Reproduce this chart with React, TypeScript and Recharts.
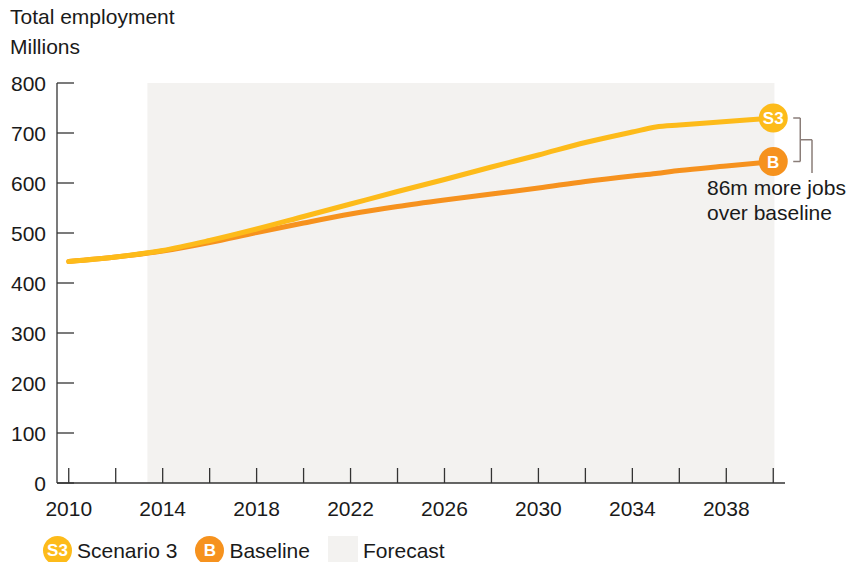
import React from "react"
import { LineChart, Line, XAxis, YAxis, ReferenceArea, ReferenceLine } from "recharts"

const years = [2010, 2012, 2014, 2016, 2018, 2020, 2022, 2024, 2026, 2028, 2030, 2032, 2034, 2035, 2036, 2038, 2040]
const scenario3 = [443, 452, 465, 485, 508, 533, 558, 583, 607, 632, 656, 681, 702, 712, 716, 723, 730]
const baseline = [443, 452, 464, 481, 501, 520, 538, 553, 566, 578, 590, 603, 614, 619, 625, 634, 643]
const xTicks = [2010, 2012, 2014, 2016, 2018, 2020, 2022, 2024, 2026, 2028, 2030, 2032, 2034, 2036, 2038, 2040]
const yTicks = [0, 100, 200, 300, 400, 500, 600, 700, 800]
const forecastStart = 2013.35
const forecastEnd = 2040.05

const data = years.map((year, i) => ({ year, s3: scenario3[i], base: baseline[i] }))

const FONT = "'Liberation Sans', Arial, Helvetica, sans-serif"
const S3_COLOR = "#FDBB1A"
const B_COLOR = "#F6921E"
const AXIS = "#333333"
const BRACKET = "#8a7d78"

const XTick = ({ x, y, payload }: any) => {
  const v = payload.value
  const showLabel = v < 2040 && (v - 2010) % 4 === 0
  return (
    <g>
      <line x1={x} x2={x} y1={y - 15} y2={y} stroke={AXIS} strokeWidth={1.3} />
      {showLabel && (
        <text x={x} y={y + 33} textAnchor="middle" fontSize={21} fill="#1a1a1a" fontFamily={FONT}>
          {v}
        </text>
      )}
    </g>
  )
}

const YTick = ({ x, y, payload }: any) => (
  <g>
    <line x1={x} x2={x + 17} y1={y} y2={y} stroke={AXIS} strokeWidth={1.3} />
    <text x={x - 11} y={y + 7.5} textAnchor="end" fontSize={21} fill="#1a1a1a" fontFamily={FONT}>
      {payload.value}
    </text>
  </g>
)

const endMarker = (label: string, color: string) => (props: any) => {
  const { cx, cy, index } = props
  if (index !== years.length - 1) return <g key={index} />
  return (
    <g key={index}>
      <circle cx={cx} cy={cy} r={14.5} fill={color} />
      <text x={cx} y={cy + 6} textAnchor="middle" fontSize={17} fontWeight="bold" fill="#fff" fontFamily={FONT}>
        {label}
      </text>
    </g>
  )
}

const Badge = ({ label, color }: { label: string; color: string }) => (
  <span
    style={{
      display: "inline-flex",
      alignItems: "center",
      justifyContent: "center",
      width: 29,
      height: 29,
      borderRadius: 15,
      background: color,
      color: "#fff",
      fontWeight: "bold",
      fontSize: 17,
    }}
  >
    {label}
  </span>
)

export default function App() {
  const bracketX1 = 2040.85
  const bracketX2 = 2041.15
  const bracketX3 = 2041.65
  const lastS3 = scenario3[scenario3.length - 1]
  const lastB = baseline[baseline.length - 1]
  const mid = (lastS3 + lastB) / 2

  return (
    <div style={{ position: "absolute", left: 0, top: 0, width: 868, height: 562, fontFamily: FONT, color: "#1a1a1a", overflow: "hidden", background: "#fff" }}>
      <div style={{ position: "absolute", left: 10, top: 5, fontSize: 21 }}>Total employment</div>
      <div style={{ position: "absolute", left: 10, top: 35, fontSize: 21 }}>Millions</div>

      <LineChart width={868} height={562} data={data} margin={{ top: 83, right: 83, bottom: 0, left: 0 }}>
        <ReferenceArea x1={forecastStart} x2={forecastEnd} y1={0} y2={800} fill="#f3f2f0" fillOpacity={1} stroke="none" />
        <XAxis
          dataKey="year"
          type="number"
          domain={[2009.5, 2040.5]}
          ticks={xTicks}
          tickSize={0}
          tickMargin={0}
          tick={<XTick />}
          axisLine={{ stroke: AXIS, strokeWidth: 1.3 }}
          interval={0}
          height={79}
        />
        <YAxis
          type="number"
          domain={[0, 800]}
          ticks={yTicks}
          tickSize={0}
          tickMargin={0}
          tick={<YTick />}
          axisLine={{ stroke: AXIS, strokeWidth: 1.3 }}
          interval={0}
          width={57}
        />
        <Line
          type="monotone"
          dataKey="base"
          stroke={B_COLOR}
          strokeWidth={5}
          strokeLinecap="round"
          dot={endMarker("B", B_COLOR)}
          activeDot={false}
          isAnimationActive={false}
        />
        <Line
          type="monotone"
          dataKey="s3"
          stroke={S3_COLOR}
          strokeWidth={5}
          strokeLinecap="round"
          dot={endMarker("S3", S3_COLOR)}
          activeDot={false}
          isAnimationActive={false}
        />
        <ReferenceLine segment={[{ x: bracketX1, y: lastS3 }, { x: bracketX2, y: lastS3 }]} stroke={BRACKET} strokeWidth={1.5} ifOverflow="visible" />
        <ReferenceLine segment={[{ x: bracketX2, y: lastS3 }, { x: bracketX2, y: lastB }]} stroke={BRACKET} strokeWidth={1.5} ifOverflow="visible" />
        <ReferenceLine segment={[{ x: bracketX1, y: lastB }, { x: bracketX2, y: lastB }]} stroke={BRACKET} strokeWidth={1.5} ifOverflow="visible" />
        <ReferenceLine segment={[{ x: bracketX2, y: mid }, { x: bracketX3, y: mid }]} stroke={BRACKET} strokeWidth={1.5} ifOverflow="visible" />
        <ReferenceLine segment={[{ x: bracketX3, y: mid }, { x: bracketX3, y: 620 }]} stroke={BRACKET} strokeWidth={1.5} ifOverflow="visible" />
      </LineChart>

      <div style={{ position: "absolute", left: 707, top: 175, fontSize: 21, lineHeight: "25px" }}>
        86m more jobs
        <br />
        over baseline
      </div>

      <div style={{ position: "absolute", left: 43, top: 536, display: "flex", alignItems: "center", fontSize: 21, height: 29 }}>
        <Badge label="S3" color={S3_COLOR} />
        <span style={{ marginLeft: 5 }}>Scenario 3</span>
        <span style={{ marginLeft: 18 }}>
          <Badge label="B" color={B_COLOR} />
        </span>
        <span style={{ marginLeft: 5 }}>Baseline</span>
        <span style={{ marginLeft: 18, width: 30, height: 29, background: "#f3f2f0", display: "inline-block" }} />
        <span style={{ marginLeft: 5 }}>Forecast</span>
      </div>
    </div>
  )
}
